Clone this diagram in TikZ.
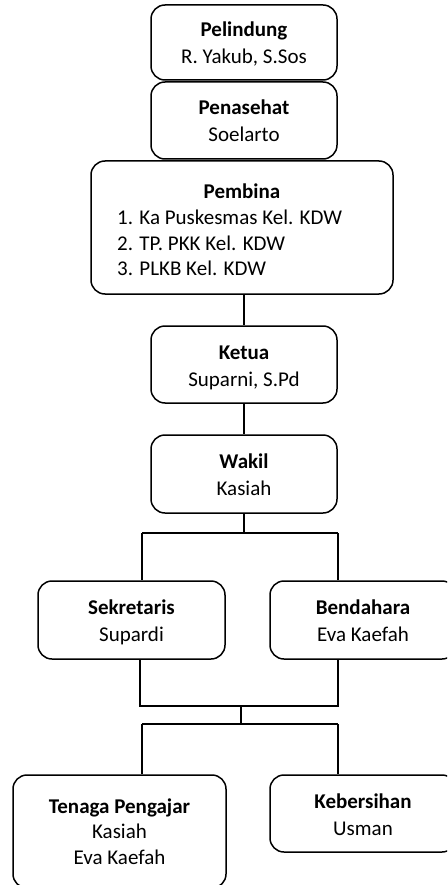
\documentclass[tikz,border=0pt]{standalone}
\usepackage{fontspec}
\setmainfont{Carlito}
% invisible strut giving every text line the same height and depth
\newcommand\linestrut{\rule[-5pt]{0pt}{26pt}}
\begin{document}
\begin{tikzpicture}[x=1pt,y=-1pt,
  txtfont/.style={font=\fontsize{21}{25.6}\selectfont},
  box/.style={draw, line width=1.5pt, rounded corners=14pt, align=center,
              inner sep=0pt, txtfont},
  link/.style={line width=1.5pt},
  txt/.style={inner sep=0pt, txtfont}]
\clip (0,0) rectangle (447,885);
\fill[white] (0,0) rectangle (447,885);

% top chain
\node[box, minimum width=186pt, minimum height=75pt] (pelindung) at (244,42.5)
  {\linestrut\textbf{Pelindung}\\\linestrut R. Yakub, S.Sos};
\node[box, minimum width=186pt, minimum height=77pt] (penasehat) at (244,120.5)
  {\linestrut\textbf{Penasehat}\\\linestrut Soelarto};
\node[box, minimum width=302pt, minimum height=133pt] (pembina) at (242,227.5) {};
\node[txt, anchor=base] (pembinatitle) at (242,199) {\textbf{Pembina}};
\node[txt, anchor=base west] (pembina1) at (117,224.5) {1. Ka Puskesmas Kel. KDW};
\node[txt, anchor=base west] (pembina2) at (117,250) {2. TP. PKK Kel. KDW};
\node[txt, anchor=base west] (pembina3) at (117,275.5) {3. PLKB Kel. KDW};
\node[box, minimum width=186pt, minimum height=77pt] (ketua) at (244,364.5)
  {\linestrut\textbf{Ketua}\\\linestrut Suparni, S.Pd};
\node[box, minimum width=186pt, minimum height=78pt] (wakil) at (244,474)
  {\linestrut\textbf{Wakil}\\\linestrut Kasiah};

% second level
\node[box, minimum width=187pt, minimum height=78pt] (sekretaris) at (131.5,620)
  {\linestrut\textbf{Sekretaris}\\\linestrut Supardi};
\node[box, minimum width=186pt, minimum height=78pt] (bendahara) at (363,620)
  {\linestrut\textbf{Bendahara}\\\linestrut Eva Kaefah};

% third level
\node[box, minimum width=213pt, minimum height=113pt] (tenaga) at (119.5,831.5)
  {\textbf{Tenaga Pengajar}\\Kasiah\\Eva Kaefah};
\node[box, minimum width=186pt, minimum height=77pt] (kebersihan) at (363,813.5)
  {\linestrut\textbf{Kebersihan}\\\linestrut Usman};

% vertical links of the chain
\draw[link] (pembina.south -| ketua.north) -- (ketua.north);
\draw[link] (ketua.south) -- (wakil.north);

% bus below Wakil
\coordinate (b1l) at (142,533);
\coordinate (b1r) at (338,533);
\draw[link] (wakil.south) -- (wakil.south |- b1l);
\draw[link] (b1l) -- (b1r);
\draw[link] (b1l) -- (b1l |- sekretaris.north);
\draw[link] (b1r) -- (b1r |- bendahara.north);

% joining bus below Sekretaris and Bendahara
\coordinate (b2l) at (140,706);
\coordinate (b2r) at (338,706);
\coordinate (b2m) at (241,706);
\draw[link] (b2l |- sekretaris.south) -- (b2l) -- (b2r) -- (b2r |- bendahara.south);

% bus above the bottom row
\coordinate (b3l) at (142,724);
\coordinate (b3r) at (338,724);
\draw[link] (b2m) -- (b2m |- b3l);
\draw[link] (b3l) -- (b3r);
\draw[link] (b3l) -- (b3l |- tenaga.north);
\draw[link] (b3r) -- (b3r |- kebersihan.north);
\end{tikzpicture}
\end{document}
